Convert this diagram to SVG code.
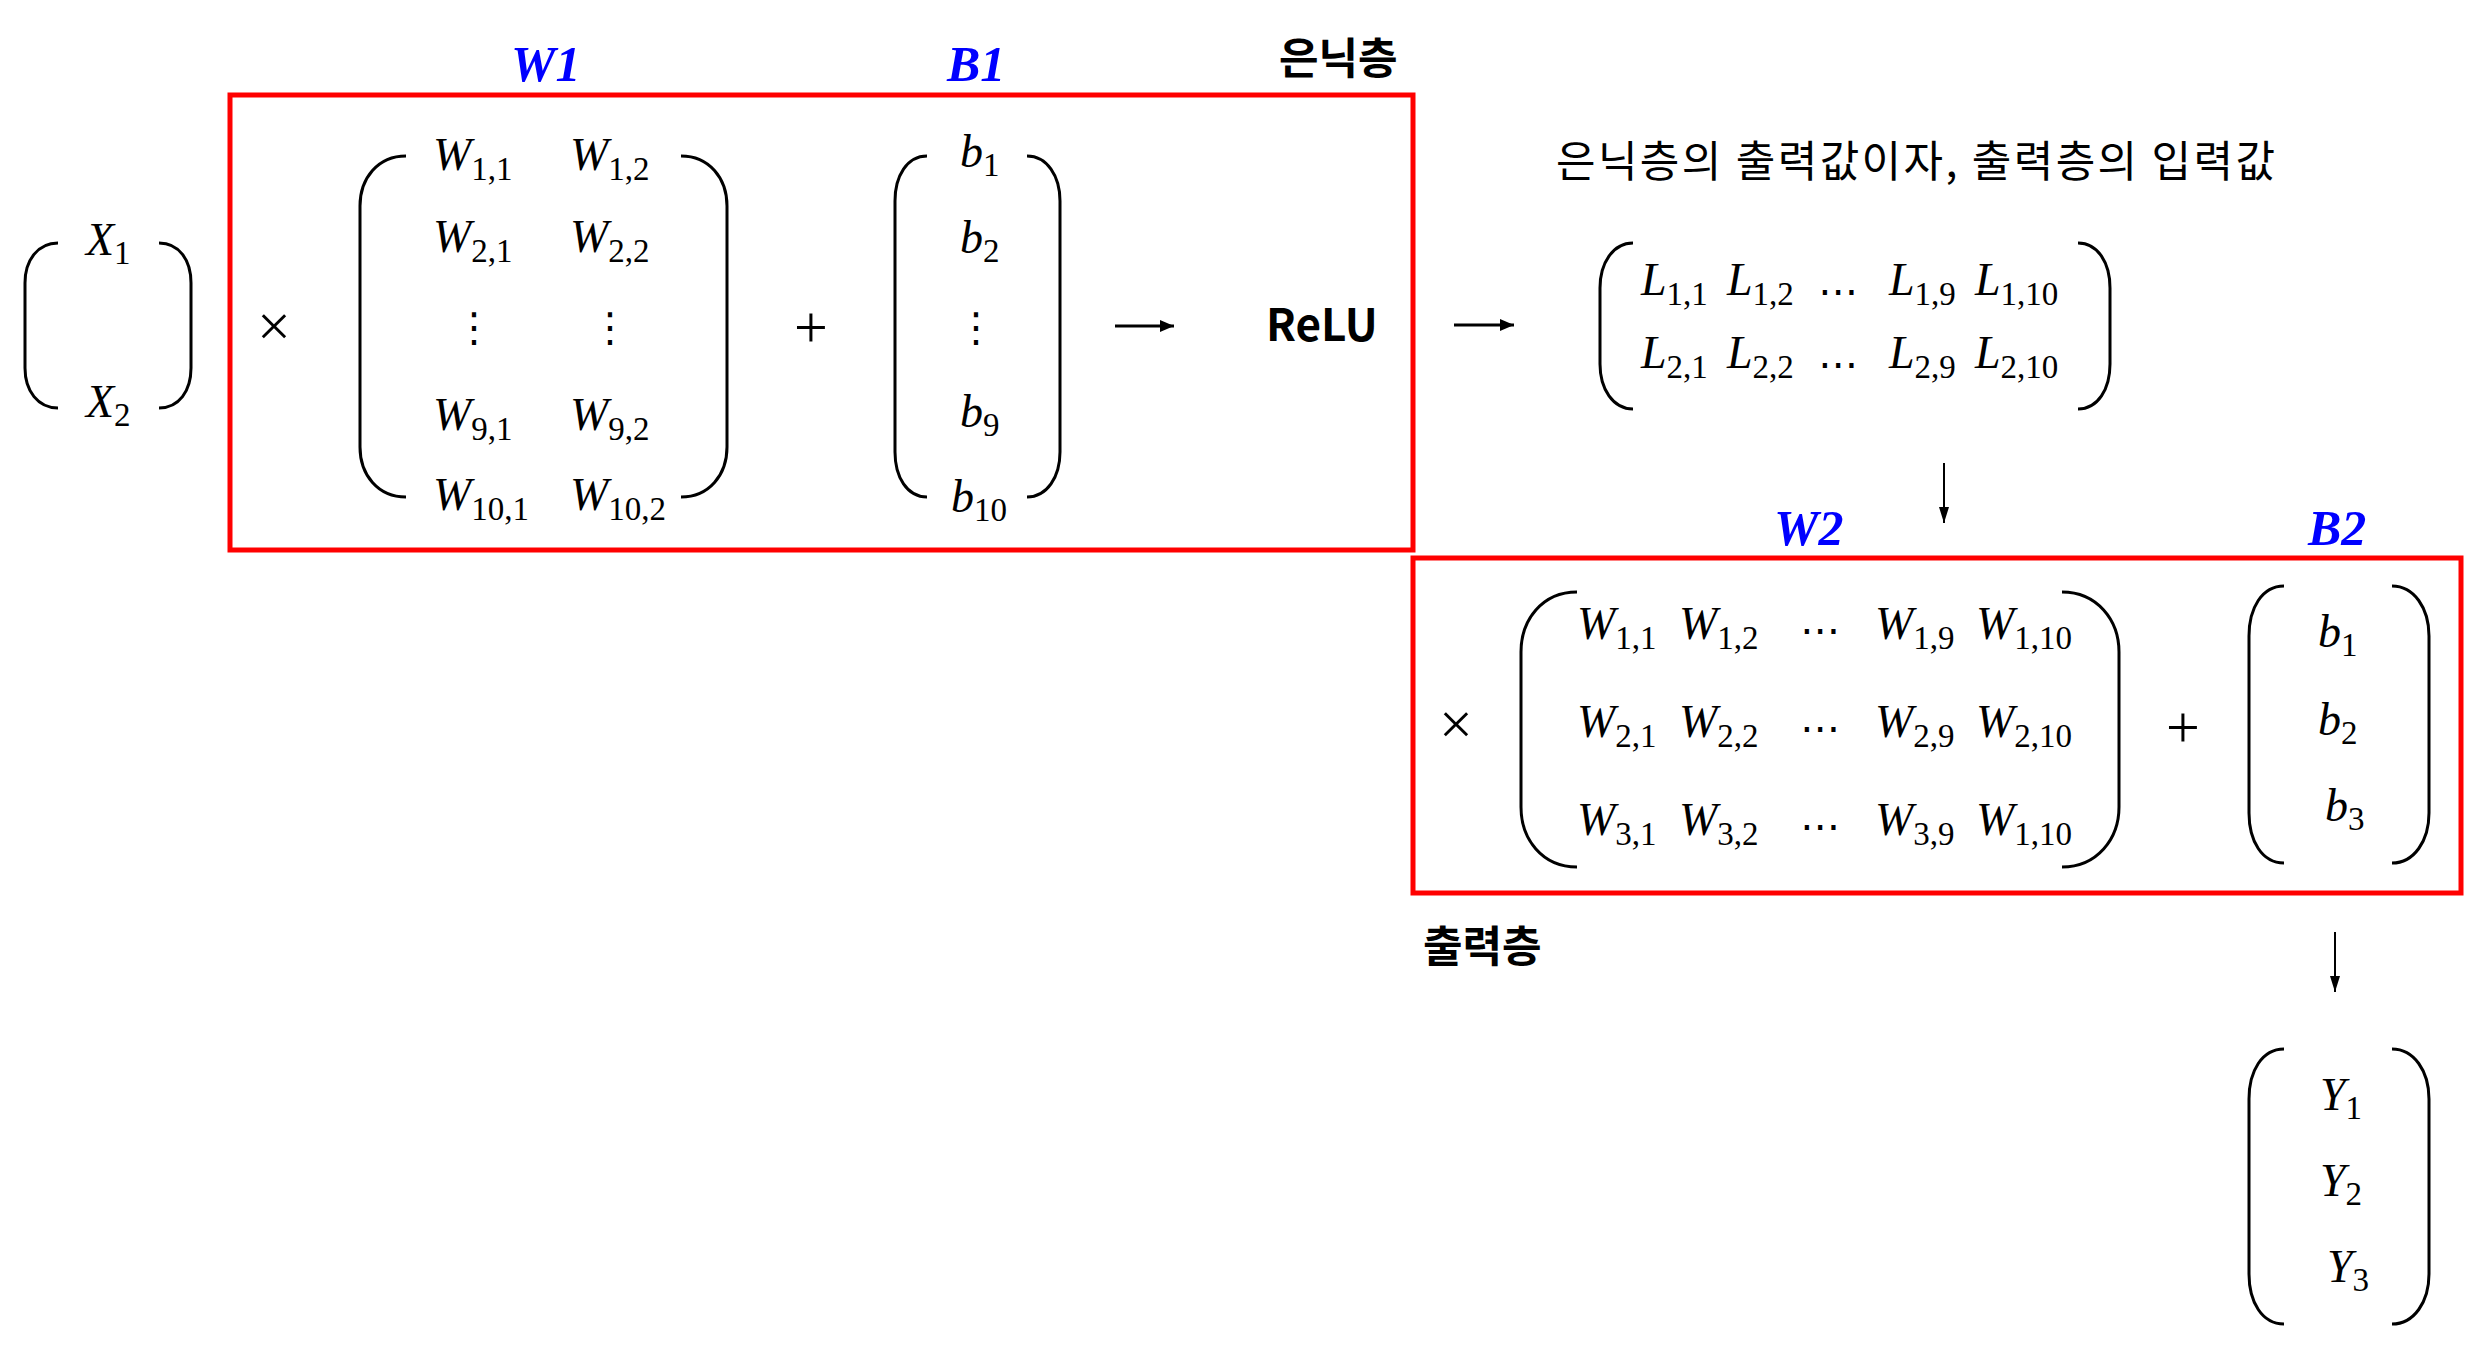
<svg xmlns="http://www.w3.org/2000/svg" width="2473" height="1346" viewBox="0 0 2473 1346">
<style>
.bg{fill:#fff}
.box{fill:none;stroke:#f00;stroke-width:5}
.par{fill:none;stroke:#000;stroke-width:3;stroke-linecap:butt}
.m{font-family:"Liberation Serif",serif;font-style:italic;font-size:46px;fill:#000}
.s{font-style:normal;font-size:33px}
.lbl{font-family:"Liberation Serif",serif;font-style:italic;font-weight:bold;font-size:50px;fill:#0000FF}
.kb{font-family:"Noto Sans CJK KR",sans-serif;font-weight:bold;font-size:43px;fill:#000}
.kr{font-family:"Noto Sans CJK KR",sans-serif;font-size:43px;fill:#000}
.op{font-family:"Liberation Serif",serif;font-size:60px;fill:#000;text-anchor:middle}
.dots{font-family:"DejaVu Sans",sans-serif;font-size:40px;fill:#000;text-anchor:middle}
.arr{fill:none;stroke:#000;stroke-width:3}
.arrv{fill:none;stroke:#000;stroke-width:2}
</style>
<defs>
<marker id="ah" viewBox="0 0 14 12" refX="14" refY="6" markerWidth="14" markerHeight="12" markerUnits="userSpaceOnUse" orient="auto"><path d="M0,0 L14,6 L0,12 z" fill="#000"/></marker>
<marker id="av" viewBox="0 0 16 10" refX="16" refY="5" markerWidth="16" markerHeight="10" markerUnits="userSpaceOnUse" orient="auto"><path d="M0,0 L16,5 L0,10 z" fill="#000"/></marker>
</defs>
<rect class="bg" x="0" y="0" width="2473" height="1346"/>

<g id="hidden-layer-box">
<rect class="box" x="230" y="95" width="1183" height="455"/>
<text class="lbl" x="511" y="81">W1</text>
<text class="lbl" x="947" y="81">B1</text>
<text class="kb" x="1279" y="74">은닉층</text>
</g>

<g id="output-layer-box">
<rect class="box" x="1413" y="558" width="1048" height="335"/>
<text class="lbl" x="1774" y="545">W2</text>
<text class="lbl" x="2308" y="545">B2</text>
<text class="kb" x="1423" y="962">출력층</text>
</g>

<g id="input-X">
<path class="par" d="M58,243 C38,243 25,260 25,283 L25,368 C25,391 38,408 58,408"/>
<path class="par" d="M159,243 C179,243 191,260 191,283 L191,368 C191,391 179,408 159,408"/>
<text class="m" x="86" y="255">X<tspan class="s" dy="9">1</tspan></text>
<text class="m" x="86" y="417">X<tspan class="s" dy="9">2</tspan></text>
</g>

<g id="op-times-1"><text class="op" x="274" y="346">×</text></g>

<g id="matrix-W1">
<path class="par" d="M406,156 C378,156 360,178 360,206 L360,447 C360,475 378,497 406,497"/>
<path class="par" d="M681,156 C709,156 727,178 727,206 L727,447 C727,475 709,497 681,497"/>
<text class="m" x="433" y="170">W<tspan class="s" dy="10">1,1</tspan></text>
<text class="m" x="570" y="170">W<tspan class="s" dy="10">1,2</tspan></text>
<text class="m" x="433" y="252">W<tspan class="s" dy="10">2,1</tspan></text>
<text class="m" x="570" y="252">W<tspan class="s" dy="10">2,2</tspan></text>
<text class="dots" x="474" y="341">⋮</text>
<text class="dots" x="610" y="341">⋮</text>
<text class="m" x="433" y="430">W<tspan class="s" dy="10">9,1</tspan></text>
<text class="m" x="570" y="430">W<tspan class="s" dy="10">9,2</tspan></text>
<text class="m" x="433" y="510">W<tspan class="s" dy="10">10,1</tspan></text>
<text class="m" x="570" y="510">W<tspan class="s" dy="10">10,2</tspan></text>
</g>

<g id="op-plus-1"><text class="op" x="811" y="347">+</text></g>

<g id="vector-b1">
<path class="par" d="M927,156 C907,156 895,176 895,201 L895,452 C895,477 907,497 927,497"/>
<path class="par" d="M1027,156 C1047,156 1060,176 1060,201 L1060,452 C1060,477 1047,497 1027,497"/>
<text class="m" x="960" y="167">b<tspan class="s" dy="9">1</tspan></text>
<text class="m" x="960" y="253">b<tspan class="s" dy="9">2</tspan></text>
<text class="dots" x="976" y="341">⋮</text>
<text class="m" x="960" y="427">b<tspan class="s" dy="9">9</tspan></text>
<text class="m" x="951" y="512">b<tspan class="s" dy="9">10</tspan></text>
</g>

<g id="relu">
<text class="kb" x="1266" y="341" style="font-size:44px">ReLU</text>
</g>

<g id="hidden-output-note">
<text class="kr" x="1556" y="177" textLength="719" lengthAdjust="spacing">은닉층의 출력값이자, 출력층의 입력값</text>
</g>

<g id="matrix-L">
<path class="par" d="M1633,243 C1613,243 1600,263 1600,288 L1600,364 C1600,389 1613,409 1633,409"/>
<path class="par" d="M2078,243 C2098,243 2110,263 2110,288 L2110,364 C2110,389 2098,409 2078,409"/>
<text class="m" x="1641" y="295">L<tspan class="s" dy="10">1,1</tspan></text>
<text class="m" x="1727" y="295">L<tspan class="s" dy="10">1,2</tspan></text>
<text class="dots" x="1838" y="305">⋯</text>
<text class="m" x="1889" y="295">L<tspan class="s" dy="10">1,9</tspan></text>
<text class="m" x="1975" y="295">L<tspan class="s" dy="10">1,10</tspan></text>
<text class="m" x="1641" y="368">L<tspan class="s" dy="10">2,1</tspan></text>
<text class="m" x="1727" y="368">L<tspan class="s" dy="10">2,2</tspan></text>
<text class="dots" x="1838" y="378">⋯</text>
<text class="m" x="1889" y="368">L<tspan class="s" dy="10">2,9</tspan></text>
<text class="m" x="1975" y="368">L<tspan class="s" dy="10">2,10</tspan></text>
</g>

<g id="op-times-2"><text class="op" x="1456" y="744">×</text></g>

<g id="matrix-W2">
<path class="par" d="M1577,592 C1542,592 1521,620 1521,652 L1521,807 C1521,839 1542,867 1577,867"/>
<path class="par" d="M2062,592 C2097,592 2119,620 2119,652 L2119,807 C2119,839 2097,867 2062,867"/>
<text class="m" x="1577" y="639">W<tspan class="s" dy="10">1,1</tspan></text>
<text class="m" x="1679" y="639">W<tspan class="s" dy="10">1,2</tspan></text>
<text class="dots" x="1820" y="644">⋯</text>
<text class="m" x="1875" y="639">W<tspan class="s" dy="10">1,9</tspan></text>
<text class="m" x="1976" y="639">W<tspan class="s" dy="10">1,10</tspan></text>
<text class="m" x="1577" y="737">W<tspan class="s" dy="10">2,1</tspan></text>
<text class="m" x="1679" y="737">W<tspan class="s" dy="10">2,2</tspan></text>
<text class="dots" x="1820" y="742">⋯</text>
<text class="m" x="1875" y="737">W<tspan class="s" dy="10">2,9</tspan></text>
<text class="m" x="1976" y="737">W<tspan class="s" dy="10">2,10</tspan></text>
<text class="m" x="1577" y="835">W<tspan class="s" dy="10">3,1</tspan></text>
<text class="m" x="1679" y="835">W<tspan class="s" dy="10">3,2</tspan></text>
<text class="dots" x="1820" y="840">⋯</text>
<text class="m" x="1875" y="835">W<tspan class="s" dy="10">3,9</tspan></text>
<text class="m" x="1976" y="835">W<tspan class="s" dy="10">1,10</tspan></text>
</g>

<g id="op-plus-2"><text class="op" x="2183" y="747">+</text></g>

<g id="vector-b2">
<path class="par" d="M2284,586 C2262,586 2249,608 2249,636 L2249,813 C2249,841 2262,863 2284,863"/>
<path class="par" d="M2392,586 C2414,586 2429,608 2429,636 L2429,813 C2429,841 2414,863 2392,863"/>
<text class="m" x="2318" y="647">b<tspan class="s" dy="9">1</tspan></text>
<text class="m" x="2318" y="735">b<tspan class="s" dy="9">2</tspan></text>
<text class="m" x="2325" y="821">b<tspan class="s" dy="9">3</tspan></text>
</g>

<g id="vector-Y">
<path class="par" d="M2284,1049 C2262,1049 2249,1071 2249,1099 L2249,1274 C2249,1302 2262,1324 2284,1324"/>
<path class="par" d="M2392,1049 C2414,1049 2429,1071 2429,1099 L2429,1274 C2429,1302 2414,1324 2392,1324"/>
<text class="m" x="2320" y="1110">Y<tspan class="s" dy="9">1</tspan></text>
<text class="m" x="2320" y="1196">Y<tspan class="s" dy="9">2</tspan></text>
<text class="m" x="2327" y="1282">Y<tspan class="s" dy="9">3</tspan></text>
</g>

<g id="connectors">
<path class="arr" d="M1115,326 L1174,326" marker-end="url(#ah)"/>
<path class="arr" d="M1454,325 L1514,325" marker-end="url(#ah)"/>
<path class="arrv" d="M1944,463 L1944,523" marker-end="url(#av)"/>
<path class="arrv" d="M2335,932 L2335,992" marker-end="url(#av)"/>
</g>
</svg>
